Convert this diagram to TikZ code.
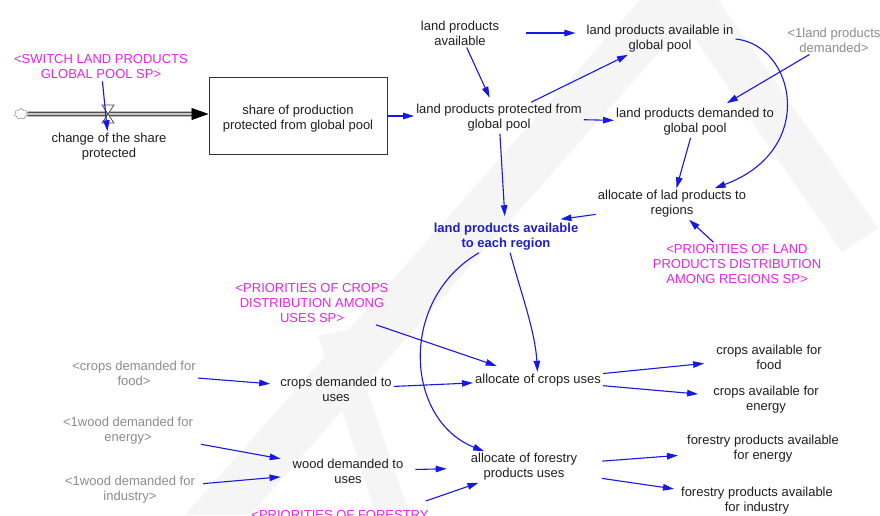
\documentclass[tikz,border=0pt]{standalone}
\usepackage{fontspec}
\setmainfont{Liberation Sans}
\usetikzlibrary{arrows.meta,shapes.symbols}

\definecolor{linkblue}{RGB}{24,24,228}
\definecolor{shadowpink}{RGB}{232,36,232}
\definecolor{ghostgray}{RGB}{140,140,140}
\definecolor{keyblue}{RGB}{30,30,205}
\definecolor{markgray}{RGB}{245,245,245}

\tikzset{
  var/.style={align=center, font=\fontsize{13}{15}\selectfont, inner sep=2pt, text=black!88},
  shadowvar/.style={var, text=shadowpink},
  ghostvar/.style={var, text=ghostgray},
  keyvar/.style={var, text=keyblue, font=\fontsize{13}{15}\selectfont\bfseries},
  stockbox/.style={draw=black!80, line width=1pt, minimum width=178pt, minimum height=77pt, inner sep=0pt},
  link/.style={draw=linkblue, line width=1.1pt, -{Triangle[length=11pt,width=6.5pt]}},
  pipeouter/.style={line width=4.8pt, draw=black!75},
  pipeinner/.style={line width=2.4pt, draw=black!22},
}

\begin{document}
\begin{tikzpicture}[x=1pt,y=-1pt]
\useasboundingbox (0,0) rectangle (880,515);
\clip (0,0) rectangle (880,515);
\fill[white] (0,0) rectangle (880,515);

% faint background logo
\fill[markgray] (185,515) -- (250,515) -- (705,0) -- (640,0) -- cycle;
\fill[markgray] (668,0) -- (718,0) -- (878,228) -- (842,252) -- cycle;
\fill[markgray] (318,336) -- (346,330) -- (410,515) -- (376,515) -- cycle;

% ---- stock and flow ----
\node[cloud, draw=black!55, cloud puffs=7, minimum width=13pt, minimum height=11pt, inner sep=0pt] (src) at (21,114) {};
\node[stockbox] (stock) at (298,116) {};
\node[var] (stockText) at ([yshift=-3pt]stock.center) {share of production\\protected from global pool};
\draw[pipeouter] (src.east) -- ([xshift=-16pt]src -| stock.west);
\draw[pipeinner] (src.east) -- ([xshift=-16pt]src -| stock.west);
\draw[line width=0.8pt, -{Triangle[length=17pt,width=12pt]}] ([xshift=-17pt]src -| stock.west) -- (src -| stock.west);
\coordinate (valve) at (108,114);
\draw[black!70, fill=white, line width=0.8pt] ([shift={(-6,-9)}]valve) -- ++(12,0) -- ++(-12,18) -- ++(12,0) -- cycle;

\node[shadowvar] (switch) at (101,67) {<SWITCH LAND PRODUCTS\\GLOBAL POOL SP>};
\node[var] (rate) at (109,147) {change of the share\\protected};

% ---- global pool ----
\node[var] (lpa) at (460,33) {land products\\available};
\node[var] (glob) at (660,39) {land products available in\\global pool};
\node[var] (prot) at (499,118) {land products protected from\\global pool};
\node[var] (dem) at (695,122) {land products demanded to\\global pool};
\node[ghostvar] (land1) at (834,40) {<1land products\\demanded>};
\node[var] (alloc) at (672,204) {allocate of lad products to\\regions};
\node[keyvar] (each) at (506,237) {land products available\\to each region};
\node[shadowvar] (prioLand) at (737,264) {<PRIORITIES OF LAND\\PRODUCTS DISTRIBUTION\\AMONG REGIONS SP>};

% ---- uses ----
\node[shadowvar] (prioCrops) at (312,303) {<PRIORITIES OF CROPS\\DISTRIBUTION AMONG\\USES SP>};
\node[var] (allocCrops) at (538,380) {allocate of crops uses};
\node[ghostvar] (foodDem) at (134,373) {<crops demanded for\\food>};
\node[var] (cropsDem) at (336,389) {crops demanded to\\uses};
\node[var] (cropsFood) at (769,357) {crops available for\\food};
\node[var] (cropsEnergy) at (766,400) {crops available for\\energy};
\node[ghostvar] (woodE) at (128,431) {<1wood demanded for\\energy>};
\node[ghostvar] (woodI) at (130,490) {<1wood demanded for\\industry>};
\node[var] (woodDem) at (348,471) {wood demanded to\\uses};
\node[var] (allocFor) at (524,467) {allocate of forestry\\products uses};
\node[var] (forE) at (763,449) {forestry products available\\for energy};
\node[var] (forI) at (757,501) {forestry products available\\for industry};
\node[shadowvar, anchor=north] (prioFor) at (340,508) {<PRIORITIES OF FORESTRY};

% ---- links ----
\draw[link] (switch) -- (rate);
\draw[link] (stock) -- (stock -| prot.west);
\draw[link, shorten <=25pt, shorten >=9pt] (lpa) -- (lpa -| glob.west);
\draw[link, shorten >=5pt] (lpa) -- (prot);
\draw[link] (prot) -- (glob);
\draw[link] (prot) -- (dem);
\draw[link, shorten >=6pt] (land1) -- (dem);
\draw[link] (dem) -- (alloc);
\draw[link] (glob.east) .. controls (795,45) and (818,150) .. (alloc);
\draw[link, shorten >=5pt] (prot) -- (each);
\draw[link] (alloc) -- ([xshift=-20pt,yshift=2pt]each.north east);
\draw[link] (prioLand) -- (alloc);
\draw[link] (each) .. controls (520,290) and (535,330) .. (allocCrops);
\draw[link] (each) .. controls (398,300) and (405,420) .. (allocFor);
\draw[link, shorten >=18pt] (prioCrops) -- (allocCrops);
\draw[link, shorten >=8pt] (foodDem) -- (cropsDem);
\draw[link] (cropsDem) -- (allocCrops);
\draw[link, shorten >=10pt] (allocCrops) -- (cropsFood);
\draw[link, shorten >=13pt] (allocCrops) -- (cropsEnergy);
\draw[link, shorten <=6pt, shorten >=10pt] (woodE) -- (woodDem);
\draw[link, shorten <=6pt, shorten >=10pt] (woodI) -- (woodDem);
\draw[link, shorten <=10pt, shorten >=22pt] (woodDem) -- (allocFor);
\draw[link, shorten <=23pt, shorten >=7pt] (allocFor) -- (forE);
\draw[link, shorten <=23pt, shorten >=5pt] (allocFor) -- (forI);
\draw[link] ([xshift=-5pt,yshift=7pt]prioFor.north east) -- (allocFor);
\end{tikzpicture}
\end{document}
